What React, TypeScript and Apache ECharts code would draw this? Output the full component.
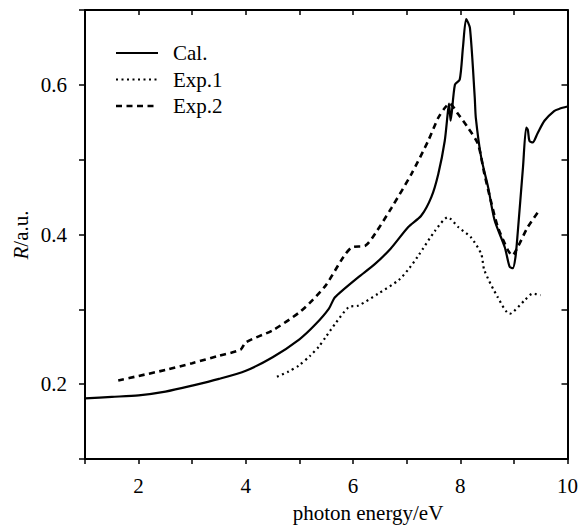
import React, { useEffect, useRef } from "react";
import * as echarts from "echarts";

const calData: [number, number][] = [
  [1, 0.181], [1.5, 0.183], [2, 0.185], [2.5, 0.19], [3, 0.198], [3.5, 0.207], [4, 0.218],
  [4.5, 0.236], [5, 0.26], [5.3, 0.28], [5.55, 0.301], [5.65, 0.315], [5.75, 0.322],
  [6.1, 0.343], [6.4, 0.36], [6.7, 0.381], [7.03, 0.41], [7.27, 0.425], [7.46, 0.45],
  [7.59, 0.481], [7.71, 0.525], [7.77, 0.565], [7.79, 0.575], [7.82, 0.552], [7.9, 0.6],
  [7.99, 0.607], [8.05, 0.65], [8.11, 0.688], [8.18, 0.676], [8.27, 0.583], [8.29, 0.556],
  [8.39, 0.503], [8.52, 0.463], [8.64, 0.419], [8.83, 0.383], [8.92, 0.357], [8.98, 0.355],
  [9.03, 0.37], [9.07, 0.401], [9.17, 0.49], [9.23, 0.543], [9.26, 0.54], [9.29, 0.525],
  [9.35, 0.523], [9.44, 0.535], [9.57, 0.552], [9.75, 0.565], [9.85, 0.568], [10, 0.571],
];

const exp1Data: [number, number][] = [
  [4.58, 0.21], [4.8, 0.217], [4.99, 0.225], [5.2, 0.238], [5.36, 0.25], [5.5, 0.264],
  [5.67, 0.281], [5.92, 0.303], [6.1, 0.305], [6.47, 0.321], [6.85, 0.339], [7.05, 0.355],
  [7.22, 0.372], [7.53, 0.405], [7.77, 0.423], [7.96, 0.41], [8.2, 0.396], [8.39, 0.374],
  [8.45, 0.352], [8.7, 0.316], [8.92, 0.294], [9.2, 0.312], [9.35, 0.321], [9.5, 0.319],
];

const exp2Data: [number, number][] = [
  [1.62, 0.205], [2, 0.211], [2.5, 0.219], [3, 0.228], [3.5, 0.238], [3.9, 0.246],
  [4.0, 0.256], [4.5, 0.272], [5, 0.296], [5.24, 0.312], [5.5, 0.333], [5.82, 0.37],
  [5.98, 0.383], [6.23, 0.385], [6.41, 0.401], [6.72, 0.436], [7.09, 0.481], [7.4, 0.525],
  [7.59, 0.556], [7.71, 0.569], [7.8, 0.575], [7.96, 0.561], [8.14, 0.543], [8.33, 0.521],
  [8.45, 0.481], [8.57, 0.445], [8.7, 0.41], [8.89, 0.379], [8.97, 0.372], [9.07, 0.383],
  [9.26, 0.41], [9.47, 0.432],
];

const seriesNames = ["Cal.", "Exp.1", "Exp.2"];
const xTickLabels = [2, 4, 6, 8, 10];
const yTickLabels = [0.2, 0.4, 0.6];

const FONT = "'Liberation Serif', 'DejaVu Serif', serif";

const lineStyles = [
  { width: 2.2, dash: null as number[] | null },
  { width: 2.2, dash: [2, 3.5] },
  { width: 2.6, dash: [6, 4.5] },
];

export default function App() {
  const ref = useRef<HTMLDivElement>(null);
  useEffect(() => {
    if (!ref.current) return;
    const chart = echarts.init(ref.current, null, { renderer: "svg" });
    const axisLine = { show: true, lineStyle: { color: "#000", width: 2 } };
    const xBase = { type: "value", min: 1, max: 10, interval: 1, splitLine: { show: false }, axisLine };
    const yBase = { type: "value", min: 0.1, max: 0.7, interval: 0.1, splitLine: { show: false }, axisLine };

    const legendGraphics: any[] = [];
    seriesNames.forEach((name, i) => {
      const y = 53 + i * 26.5;
      legendGraphics.push({
        type: "line",
        shape: { x1: 116, y1: y, x2: 158, y2: y },
        style: { stroke: "#000", lineWidth: lineStyles[i].width, lineDash: lineStyles[i].dash || undefined },
      });
      legendGraphics.push({
        type: "text",
        x: 173,
        y: y,
        style: { text: name, fontFamily: FONT, fontSize: 21, fill: "#000", align: "left", verticalAlign: "middle" },
      });
    });

    chart.setOption({
      animation: false,
      backgroundColor: "#fff",
      textStyle: { fontFamily: FONT },
      grid: { left: 85, top: 10, right: 11, bottom: 66 },
      xAxis: [
        {
          ...xBase,
          position: "bottom",
          axisTick: { show: true, inside: false, length: 5, lineStyle: { color: "#000", width: 1.5 } },
          axisLabel: {
            margin: 16,
            fontFamily: FONT,
            fontSize: 21,
            color: "#000",
            formatter: (v: number) => (xTickLabels.includes(Math.round(v)) ? String(Math.round(v)) : ""),
          },
        },
        {
          ...xBase,
          position: "top",
          axisTick: { show: true, inside: true, length: 5, lineStyle: { color: "#000", width: 1.5 } },
          axisLabel: { show: false },
        },
      ],
      yAxis: [
        {
          ...yBase,
          position: "left",
          axisTick: { show: true, inside: false, length: 6, lineStyle: { color: "#000", width: 1.5 } },
          axisLabel: {
            margin: 18,
            fontFamily: FONT,
            fontSize: 21,
            color: "#000",
            formatter: (v: number) => {
              const r = Math.round(v * 10) / 10;
              return yTickLabels.some((t) => Math.abs(t - r) < 1e-6) ? r.toFixed(1) : "";
            },
          },
        },
        {
          ...yBase,
          position: "right",
          axisTick: { show: true, inside: true, length: 6, lineStyle: { color: "#000", width: 1.5 } },
          axisLabel: { show: false },
        },
      ],
      graphic: [
        ...legendGraphics,
        {
          type: "text",
          x: 368,
          y: 513,
          style: {
            text: "photon energy/eV",
            fontFamily: FONT,
            fontSize: 21,
            fill: "#000",
            align: "center",
            verticalAlign: "middle",
          },
        },
        {
          type: "text",
          x: 21,
          y: 235,
          rotation: Math.PI / 2,
          style: {
            text: "{i|R}/a.u.",
            fontFamily: FONT,
            fontSize: 21,
            fill: "#000",
            align: "center",
            verticalAlign: "middle",
            rich: { i: { fontFamily: FONT, fontSize: 21, fontStyle: "italic", fill: "#000" } },
          },
        },
      ],
      series: seriesNames.map((name, i) => ({
        name,
        type: "line",
        data: [calData, exp1Data, exp2Data][i],
        showSymbol: false,
        symbol: "none",
        smooth: 0.25,
        lineStyle: { color: "#000", width: lineStyles[i].width, type: lineStyles[i].dash || "solid" },
      })),
    });
    return () => chart.dispose();
  }, []);
  return <div ref={ref} style={{ width: 581, height: 525, position: "absolute", left: 0, top: 0 }} />;
}
